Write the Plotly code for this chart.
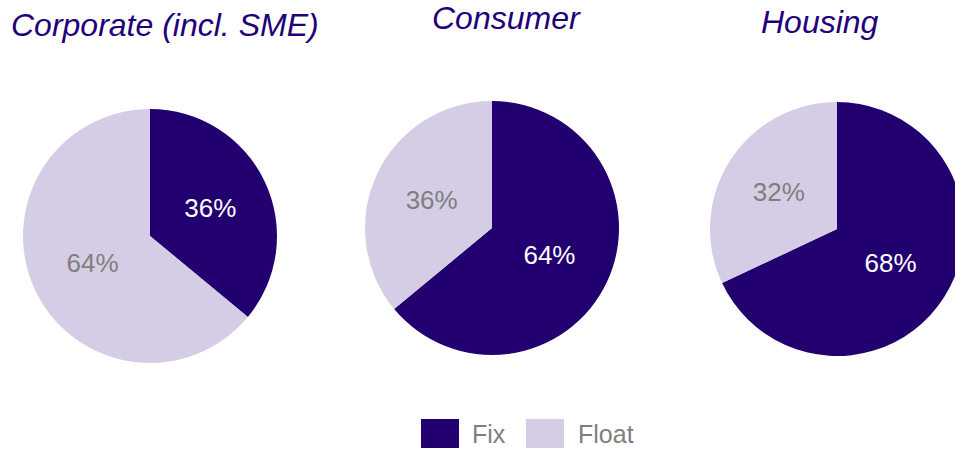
import plotly.graph_objects as go

W, H = 965, 449

segments = ["Fix", "Float"]
titles = ["Corporate (incl. SME)", "Consumer", "Housing"]
corporate = [36, 64]
consumer = [64, 36]
housing = [68, 32]
series = [corporate, consumer, housing]

DARK = "#23006F"
LIGHT = "#D5CDE5"
GRAY = "#7F7F7F"
FONT = "Liberation Sans, Arial, sans-serif"

# pie boxes in pixels: (left, top, size)
boxes = [(23, 109, 254), (365, 101, 254), (710, 102, 254)]
title_pos = [(165, 25), (507, 18), (820, 22)]

fig = go.Figure()
for vals, (l, t, s) in zip(series, boxes):
    fig.add_trace(go.Pie(
        labels=segments,
        values=vals,
        sort=False,
        direction="clockwise",
        rotation=0,
        marker=dict(colors=[DARK, LIGHT], line=dict(width=0)),
        texttemplate="%{value}%",
        textposition="inside",
        insidetextorientation="horizontal",
        textfont=dict(family=FONT, size=26, color=["white", GRAY]),
        domain=dict(x=[l / W, (l + s) / W], y=[1 - (t + s) / H, 1 - t / H]),
        showlegend=False,
        hoverinfo="label+percent",
    ))

for txt, (cx, cy) in zip(titles, title_pos):
    fig.add_annotation(
        text=f"<i>{txt}</i>", x=cx / W, y=1 - cy / H, xref="paper", yref="paper",
        xanchor="center", yanchor="middle", showarrow=False,
        font=dict(family=FONT, size=32, color="#22007A"),
    )

# legend drawn manually
legend_items = [(421, 459, DARK, "Fix", 470), (526, 564, LIGHT, "Float", 576)]
for x0, x1, col, name, tx in legend_items:
    fig.add_shape(type="rect", xref="paper", yref="paper",
                  x0=x0 / W, x1=x1 / W, y0=1 - 448 / H, y1=1 - 419 / H,
                  fillcolor=col, line=dict(width=0))
    fig.add_annotation(text=name, x=tx / W, y=1 - 434 / H, xref="paper", yref="paper",
                       xanchor="left", yanchor="middle", showarrow=False,
                       font=dict(family=FONT, size=25, color=GRAY))

fig.update_layout(
    width=W, height=H,
    margin=dict(l=0, r=0, t=0, b=0),
    paper_bgcolor="white", plot_bgcolor="white",
)

fig.write_html(
    "out.html",
    config={"displayModeBar": False},
    post_script=(
        "document.body.style.margin='0';"
        "document.body.style.overflow='hidden';"
        "document.documentElement.style.overflow='hidden';"
    ),
)
